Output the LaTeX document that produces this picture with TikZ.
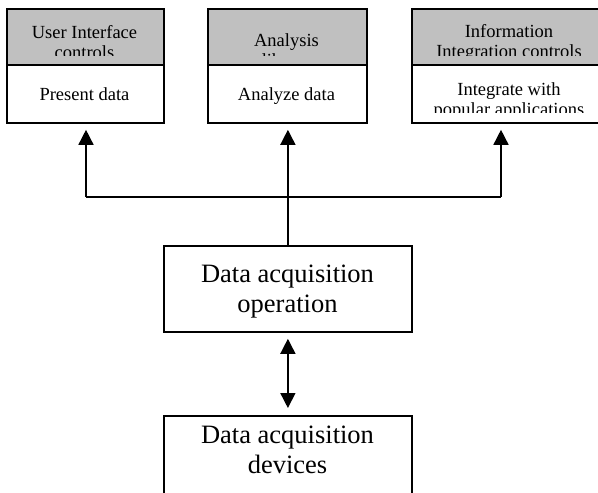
\documentclass[tikz,border=0pt]{standalone}
\usepackage{fontspec}
\setmainfont{Liberation Serif}
\usetikzlibrary{arrows.meta}
\definecolor{hdrgray}{RGB}{192,192,192}
\tikzset{
  box/.style={draw=black, line width=1.8pt, inner sep=0pt, anchor=north west},
  hdrbox/.style={box, fill=hdrgray},
  % multi-line texts are placed by the baseline of their last line
  small/.style={font=\fontsize{18.5}{20.5}\selectfont, align=center, inner sep=0pt, anchor=base},
  big/.style={font=\fontsize{26.5}{30}\selectfont, align=center, inner sep=0pt, anchor=base},
  link/.style={draw=black, line width=1.5pt},
  tip/.style={-{Triangle[length=15pt,width=15pt]}},
  dtip/.style={{Triangle[length=15pt,width=15pt]}-{Triangle[length=15pt,width=15pt]}}
}
\begin{document}
\begin{tikzpicture}[x=1pt,y=-1pt]
\useasboundingbox (0,0) rectangle (598,493);
\clip (0,0) rectangle (598,493);

% top row: grey header over white body
\node[hdrbox, minimum width=157pt, minimum height=56pt] (h1) at (6,8) {};
\node[box, minimum width=157pt, minimum height=58pt] (b1) at (6,64) {};
\node[hdrbox, minimum width=159pt, minimum height=56pt] (h2) at (207,8) {};
\node[box, minimum width=159pt, minimum height=58pt] (b2) at (207,64) {};
\node[hdrbox, minimum width=200pt, minimum height=56pt] (h3) at (411,8) {};
\node[box, minimum width=200pt, minimum height=58pt] (b3) at (411,64) {};

% header and body texts, cut off at their text frames
\begin{scope}
  \clip (6,8) rectangle (163,55);
  \node[small] (t1) at (84.5,58.5) {User Interface\\controls};
\end{scope}
\begin{scope}
  \clip (207,8) rectangle (366,55);
  \node[small] (t2) at (286.5,66.5) {Analysis\\library};
\end{scope}
\begin{scope}
  \clip (411,8) rectangle (598,55);
  \node[small] (t3) at (509,57.5) {Information\\Integration controls};
\end{scope}
\node[small] (s1) at (84.5,100) {Present data};
\node[small] (s2) at (286.5,100) {Analyze data};
\begin{scope}
  \clip (411,64) rectangle (598,112);
  \node[small] (s3) at (509,115.5) {Integrate with\\popular applications};
\end{scope}

% lower boxes
\node[box, minimum width=248pt, minimum height=86pt] (op) at (163,245) {};
\node[big] (opt) at (287.5,312) {Data acquisition\\operation};
\node[box, minimum width=248pt, minimum height=95pt] (dev) at (163,415) {};
\node[big] (devt) at (287.5,473.5) {Data acquisition\\devices};

% connectors
\coordinate (busL) at (86,197);
\coordinate (busR) at (501,197);
\draw[link] (busL) -- (busR);
\draw[link, tip, shorten >=6pt] (busL) -- (busL |- b1.south);
\draw[link, tip, shorten >=6pt] (busR) -- (busR |- b3.south);
\draw[link, tip, shorten >=6pt] (op.north) -- (op.north |- b2.south);
\draw[link, dtip, shorten >=7pt, shorten <=6pt] (op.south) -- (dev.north);
\end{tikzpicture}
\end{document}
